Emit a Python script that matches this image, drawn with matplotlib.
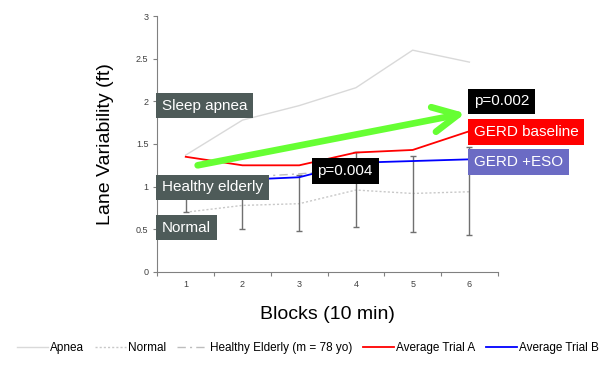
import numpy as np
import matplotlib.pyplot as plt
from matplotlib import font_manager

plt.rcParams['font.family'] = ['Liberation Sans', 'DejaVu Sans']

# --- data ---
blocks = [1, 2, 3, 4, 5, 6]
apnea = [1.37, 1.78, 1.95, 2.16, 2.60, 2.46]
normal = [0.70, 0.78, 0.80, 0.96, 0.92, 0.94]
healthy_elderly = [1.12, 1.11, 1.15, 1.20, np.nan, np.nan]
trial_a = [1.35, 1.25, 1.25, 1.40, 1.43, 1.65]
trial_b = [1.10, 1.08, 1.11, 1.28, 1.30, 1.32]
err_top = [1.00, 1.08, 1.14, 1.41, 1.36, 1.46]
err_bottom = [0.70, 0.50, 0.48, 0.53, 0.47, 0.43]

legend_labels = ['Apnea', 'Normal', 'Healthy Elderly (m = 78 yo)',
                 'Average Trial A', 'Average Trial B']

fig = plt.figure(figsize=(6.1, 3.65), dpi=100)
ax = fig.add_axes([0.258, 0.255, 0.558, 0.701])

ax.plot(blocks, apnea, color='#d9d9d9', lw=1.0, label=legend_labels[0])
ax.plot(blocks, normal, color='#c8c8c8', lw=1.0, ls=(0, (1.5, 1.5)), label=legend_labels[1])
ax.plot(blocks, healthy_elderly, color='#bdbdbd', lw=1.0, ls=(0, (6, 3, 1.5, 3)),
        label=legend_labels[2])

# error bars (dark gray, capped)
mid = (np.array(err_top) + np.array(err_bottom)) / 2
half = (np.array(err_top) - np.array(err_bottom)) / 2
ax.errorbar(blocks, mid, yerr=half, fmt='none', ecolor='#707070', elinewidth=1.0,
            capsize=2, capthick=1.0, zorder=2)

ax.plot(blocks, trial_a, color='#ff0000', lw=1.3, label=legend_labels[3], zorder=3)
ax.plot(blocks, trial_b, color='#0000ff', lw=1.3, label=legend_labels[4], zorder=3)

# green trend arrow
ax.annotate('', xy=(5.93, 1.86), xytext=(1.21, 1.25),
            arrowprops=dict(arrowstyle='->, head_length=1.0, head_width=0.5',
                            color='#66ff33', lw=4.8, mutation_scale=18,
                            shrinkA=0, shrinkB=0), zorder=4)

ax.set_xlim(0.5, 6.5)
ax.set_ylim(0, 3)
ax.set_xticks(np.arange(0.5, 6.6, 1))
ax.set_xticks(blocks, minor=True)
ax.set_xticklabels([])
ax.set_xticklabels([str(b) for b in blocks], minor=True)
ax.tick_params(axis='x', which='minor', length=0, labelsize=6.5, colors='#404040', pad=6)
ax.tick_params(axis='x', which='major', length=3, color='#808080')
ax.set_yticks(np.arange(0, 3.01, 0.5))
ax.set_yticklabels(['0', '0.5', '1', '1.5', '2', '2.5', '3'])
ax.tick_params(axis='y', length=3, color='#808080', labelsize=6.5, labelcolor='#404040')
for side in ['top', 'right']:
    ax.spines[side].set_visible(False)
for side in ['left', 'bottom']:
    ax.spines[side].set_color('#808080')

ax.set_ylabel('Lane Variability (ft)', fontsize=14, labelpad=16)
ax.set_xlabel('Blocks (10 min)', fontsize=14, labelpad=12)

# boxed annotations
def box(x, y, text, fc):
    ax.text(x, y, text, fontsize=11, color='white', ha='left', va='center',
            bbox=dict(boxstyle='square,pad=0.38', fc=fc, ec='none'),
            zorder=5, clip_on=False)

slate = '#4e5b59'
box(0.58, 1.95, 'Sleep apnea', slate)
box(0.58, 0.99, 'Healthy elderly', slate)
box(0.58, 0.52, 'Normal', slate)
box(3.32, 1.18, 'p=0.004', 'black')
box(6.08, 2.00, 'p=0.002', 'black')
box(6.08, 1.64, 'GERD baseline', '#ff0000')
box(6.08, 1.29, 'GERD +ESO', '#6b6bc4')

# condensed legend font if available
names = {f.name for f in font_manager.fontManager.ttflist}
if 'Liberation Sans Narrow' in names:
    leg_font = dict(family='Liberation Sans Narrow', size=10)
else:
    leg_font = dict(family='Liberation Sans', size=8.5)

fig.legend(loc='lower center', bbox_to_anchor=(0.505, 0.0), ncol=5, frameon=False,
           prop=leg_font, handlelength=2.6, columnspacing=0.9, handletextpad=0.2)

fig.savefig('out.png', dpi=100)
